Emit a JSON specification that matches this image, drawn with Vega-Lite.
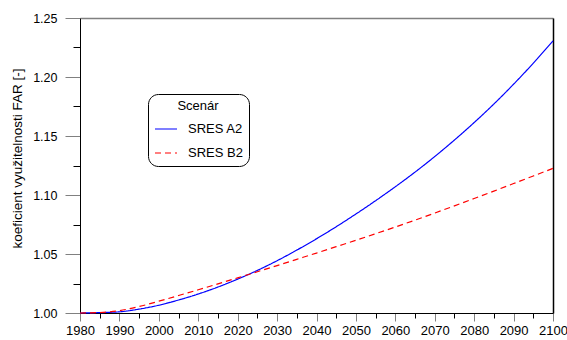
{
  "$schema": "https://vega.github.io/schema/vega-lite/v6.json",
  "width": 473,
  "height": 295,
  "autosize": {"type": "none"},
  "padding": {"left": 80, "top": 18, "right": 14, "bottom": 27},
  "background": "white",
  "config": {
    "font": "Liberation Sans",
    "view": {"stroke": null},
    "axis": {"labelColor": "#000", "titleColor": "#000", "grid": false}
  },
  "data": {
    "values": [
      {"year": 1980, "s": "SRES A2", "v": 1.0000},
      {"year": 1985, "s": "SRES A2", "v": 1.0003},
      {"year": 1990, "s": "SRES A2", "v": 1.0010},
      {"year": 1995, "s": "SRES A2", "v": 1.0033},
      {"year": 2000, "s": "SRES A2", "v": 1.0066},
      {"year": 2005, "s": "SRES A2", "v": 1.0110},
      {"year": 2010, "s": "SRES A2", "v": 1.0161},
      {"year": 2015, "s": "SRES A2", "v": 1.0220},
      {"year": 2020, "s": "SRES A2", "v": 1.0287},
      {"year": 2025, "s": "SRES A2", "v": 1.0361},
      {"year": 2030, "s": "SRES A2", "v": 1.0443},
      {"year": 2035, "s": "SRES A2", "v": 1.0533},
      {"year": 2040, "s": "SRES A2", "v": 1.0629},
      {"year": 2045, "s": "SRES A2", "v": 1.0731},
      {"year": 2050, "s": "SRES A2", "v": 1.0839},
      {"year": 2055, "s": "SRES A2", "v": 1.0952},
      {"year": 2060, "s": "SRES A2", "v": 1.1070},
      {"year": 2065, "s": "SRES A2", "v": 1.1194},
      {"year": 2070, "s": "SRES A2", "v": 1.1326},
      {"year": 2075, "s": "SRES A2", "v": 1.1466},
      {"year": 2080, "s": "SRES A2", "v": 1.1614},
      {"year": 2085, "s": "SRES A2", "v": 1.1771},
      {"year": 2090, "s": "SRES A2", "v": 1.1939},
      {"year": 2095, "s": "SRES A2", "v": 1.2117},
      {"year": 2100, "s": "SRES A2", "v": 1.2306},
      {"year": 1980, "s": "SRES B2", "v": 1.0000},
      {"year": 1985, "s": "SRES B2", "v": 1.0004},
      {"year": 1990, "s": "SRES B2", "v": 1.0020},
      {"year": 1995, "s": "SRES B2", "v": 1.0055},
      {"year": 2000, "s": "SRES B2", "v": 1.0100},
      {"year": 2005, "s": "SRES B2", "v": 1.0148},
      {"year": 2010, "s": "SRES B2", "v": 1.0197},
      {"year": 2015, "s": "SRES B2", "v": 1.0247},
      {"year": 2020, "s": "SRES B2", "v": 1.0298},
      {"year": 2025, "s": "SRES B2", "v": 1.0350},
      {"year": 2030, "s": "SRES B2", "v": 1.0402},
      {"year": 2035, "s": "SRES B2", "v": 1.0455},
      {"year": 2040, "s": "SRES B2", "v": 1.0508},
      {"year": 2045, "s": "SRES B2", "v": 1.0562},
      {"year": 2050, "s": "SRES B2", "v": 1.0616},
      {"year": 2055, "s": "SRES B2", "v": 1.0672},
      {"year": 2060, "s": "SRES B2", "v": 1.0729},
      {"year": 2065, "s": "SRES B2", "v": 1.0787},
      {"year": 2070, "s": "SRES B2", "v": 1.0847},
      {"year": 2075, "s": "SRES B2", "v": 1.0908},
      {"year": 2080, "s": "SRES B2", "v": 1.0970},
      {"year": 2085, "s": "SRES B2", "v": 1.1033},
      {"year": 2090, "s": "SRES B2", "v": 1.1097},
      {"year": 2095, "s": "SRES B2", "v": 1.1161},
      {"year": 2100, "s": "SRES B2", "v": 1.1226}
    ]
  },
  "layer": [
    {
      "mark": {"type": "line", "strokeWidth": 1.2, "interpolate": "monotone"},
      "encoding": {
        "x": {
          "field": "year",
          "type": "quantitative",
          "scale": {"domain": [1980, 2100], "nice": false, "zero": false},
          "axis": {
            "orient": "bottom",
            "title": null,
            "values": [1980, 1985, 1990, 1995, 2000, 2005, 2010, 2015, 2020, 2025, 2030, 2035, 2040, 2045, 2050, 2055, 2060, 2065, 2070, 2075, 2080, 2085, 2090, 2095, 2100],
            "format": "d",
            "labelExpr": "datum.value % 10 === 0 ? datum.label : ''",
            "labelFontSize": 13,
            "labelPadding": 3,
            "labelOverlap": false,
            "labelFlush": false,
            "labelBound": false,
            "domainColor": "#000",
            "domainWidth": 1,
            "tickWidth": 1,
            "tickSize": {"condition": {"test": "datum.value % 10 === 0", "value": 8}, "value": 5},
            "tickColor": {"condition": {"test": "datum.value % 10 === 0", "value": "#808080"}, "value": "#000"}
          }
        },
        "y": {
          "field": "v",
          "type": "quantitative",
          "scale": {"domain": [1, 1.25], "nice": false, "zero": false},
          "axis": {
            "orient": "left",
            "values": [1, 1.025, 1.05, 1.075, 1.1, 1.125, 1.15, 1.175, 1.2, 1.225, 1.25],
            "labelExpr": "round(datum.value * 1000) % 50 === 0 ? format(datum.value, '.2f') : ''",
            "labelFontSize": 12.5,
            "labelPadding": 8,
            "labelOverlap": false,
            "labelBound": false,
            "domainColor": "#000",
            "domainWidth": 1,
            "tickWidth": 1,
            "tickSize": {"condition": {"test": "round(datum.value * 1000) % 50 === 0", "value": 15}, "value": 7},
            "tickColor": {"condition": {"test": "round(datum.value * 1000) % 50 === 0", "value": "#808080"}, "value": "#000"},
            "title": "koeficient využitelnosti FAR [-]",
            "titleFontSize": 13.5,
            "titleFontWeight": "normal",
            "titleX": -63,
            "titleY": 140,
            "titleAngle": -90,
            "titleAlign": "center",
            "titleBaseline": "middle"
          }
        },
        "color": {
          "field": "s",
          "type": "nominal",
          "title": "Scenár",
          "scale": {"domain": ["SRES A2", "SRES B2"], "range": ["#0000ff", "#ff0000"]},
          "legend": {
            "orient": "none", "legendX": 68, "legendY": 76,
            "strokeColor": "#000", "cornerRadius": 10, "fillColor": "#fff", "padding": 6,
            "titleFontSize": 13, "titleFontWeight": "normal", "titleAnchor": "middle", "titleColor": "#000", "titlePadding": 4,
            "labelFontSize": 13, "labelColor": "#000", "labelOffset": 10,
            "symbolType": "stroke", "symbolSize": 484, "symbolStrokeWidth": 1.2, "rowPadding": 5
          }
        },
        "strokeDash": {
          "field": "s",
          "type": "nominal",
          "title": "Scenár",
          "scale": {"domain": ["SRES A2", "SRES B2"], "range": [[1, 0], [6, 4]]},
          "legend": {
            "orient": "none", "legendX": 68, "legendY": 76,
            "strokeColor": "#000", "cornerRadius": 10, "fillColor": "#fff", "padding": 6,
            "titleFontSize": 13, "titleFontWeight": "normal", "titleAnchor": "middle", "titleColor": "#000", "titlePadding": 4,
            "labelFontSize": 13, "labelColor": "#000", "labelOffset": 10,
            "symbolType": "stroke", "symbolSize": 484, "symbolStrokeWidth": 1.2, "rowPadding": 5
          }
        }
      }
    },
    {
      "mark": {"type": "line", "opacity": 0},
      "encoding": {
        "x": {
          "field": "year",
          "type": "quantitative",
          "axis": {"orient": "top", "title": null, "labels": false, "ticks": false, "domainColor": "#808080", "domainWidth": 1.5}
        },
        "y": {
          "field": "v",
          "type": "quantitative",
          "axis": {"orient": "right", "title": null, "labels": false, "ticks": false, "domainColor": "#000", "domainWidth": 1.5}
        },
        "detail": {"field": "s", "type": "nominal"}
      }
    }
  ],
  "resolve": {"axis": {"x": "independent", "y": "independent"}}
}
